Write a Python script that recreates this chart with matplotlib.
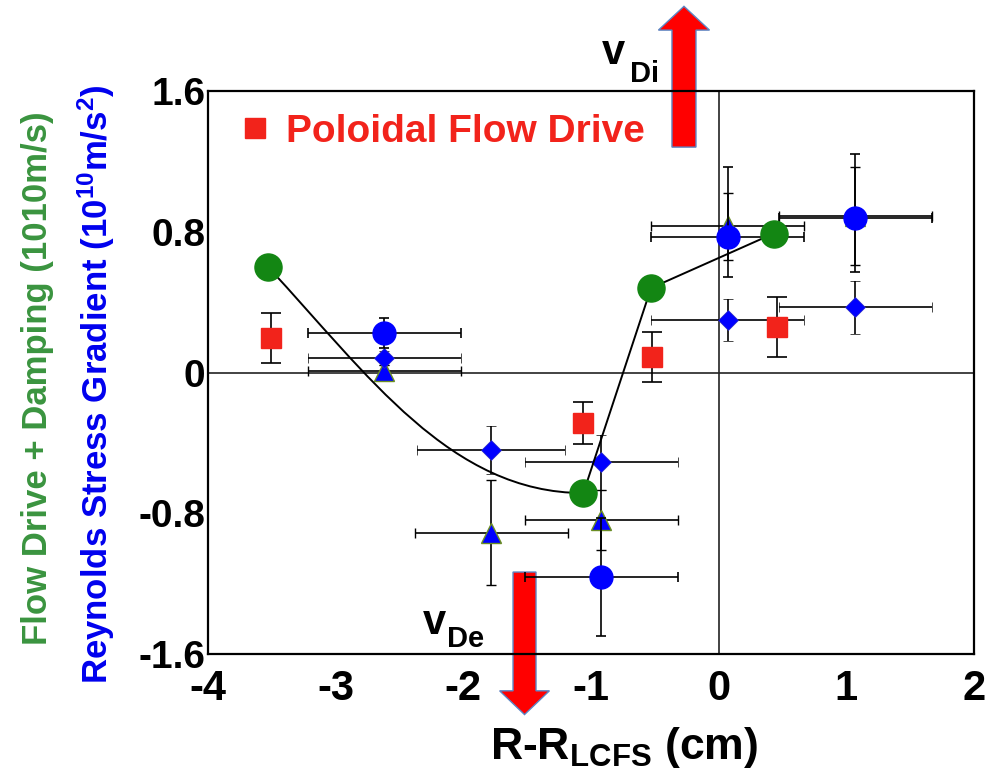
import numpy as np
import matplotlib
matplotlib.use("Agg")
import matplotlib.pyplot as plt
from matplotlib.path import Path
from matplotlib.patches import PathPatch, FancyArrow
from matplotlib.lines import Line2D

# datos
green_x = [-3.53, -1.06, -0.53, 0.43]
green_y = [0.60, -0.685, 0.48, 0.79]

red_x = [-3.51, -1.06, -0.52, 0.46]
red_y = [0.196, -0.287, 0.088, 0.26]
red_yerr = [0.14, 0.12, 0.14, 0.17]

circ_x = [-2.62, -0.92, 0.07, 1.07]
circ_y = [0.225, -1.16, 0.77, 0.88]
circ_yerr_lo = [0.085, 0.335, 0.23, 0.31]
circ_yerr_hi = [0.085, 0.335, 0.40, 0.36]
circ_xerr = [0.6, 0.6, 0.6, 0.6]

diam_x = [-2.62, -1.78, -0.92, 0.07, 1.07]
diam_y = [0.083, -0.44, -0.51, 0.30, 0.37]
diam_yerr = [0.04, 0.135, 0.155, 0.12, 0.15]
diam_xerr = [0.6, 0.58, 0.6, 0.6, 0.6]

tri_x = [-2.62, -1.78, -0.92, 0.07, 1.07]
tri_y = [0.01, -0.91, -0.84, 0.83, 0.89]
tri_yerr = [0.03, 0.30, 0.17, 0.19, 0.28]
tri_xerr = [0.6, 0.6, 0.6, 0.6, 0.6]

x_ticks = [-4, -3, -2, -1, 0, 1, 2]
y_ticks = [-1.6, -0.8, 0, 0.8, 1.6]
y_ticklabels = ['-1.6', '-0.8', '0', '0.8', '1.6']

RED = '#F2231B'
BLUE = '#0000FF'
GREEN = '#138613'

plt.rcParams['font.family'] = ['Liberation Sans', 'DejaVu Sans']
plt.rcParams['mathtext.fontset'] = 'custom'
plt.rcParams['mathtext.rm'] = 'Liberation Sans:bold'
plt.rcParams['mathtext.it'] = 'Liberation Sans:bold'
plt.rcParams['mathtext.bf'] = 'Liberation Sans:bold'

fig = plt.figure(figsize=(9.94, 7.73), dpi=100)
ax = fig.add_axes([0.2093, 0.1539, 0.7706, 0.7284])
ax.set_xlim(-4, 2)
ax.set_ylim(-1.6, 1.6)

for s in ax.spines.values():
    s.set_linewidth(1.6)
ax.axhline(0, color='#222222', lw=1.2, zorder=1)
ax.axvline(0, color='#222222', lw=1.2, zorder=1)

ax.set_xticks(x_ticks)
ax.set_xticklabels([str(t) for t in x_ticks])
ax.set_yticks(y_ticks)
ax.set_yticklabels(y_ticklabels)
ax.tick_params(axis='x', length=0, pad=11, labelsize=30)
ax.tick_params(axis='y', length=0, pad=2, labelsize=28)
for lab in ax.get_xticklabels() + ax.get_yticklabels():
    lab.set_fontweight('bold')

ekw = dict(ecolor='black', elinewidth=1.2, capthick=1.2, ls='none')

# triangulos, rombos y circulos azules (gradiente de Reynolds)
ax.errorbar(tri_x, tri_y, xerr=tri_xerr, yerr=tri_yerr, fmt='^', ms=14,
            mfc=BLUE, mec='#6B8E23', mew=1, capsize=3.5, zorder=3, **ekw)
ax.errorbar(diam_x, diam_y, xerr=diam_xerr, yerr=diam_yerr, fmt='D', ms=10.5,
            mfc=BLUE, mec='#3030C0', mew=0.5, capsize=3.5, zorder=4, **ekw)
ax.errorbar(circ_x, circ_y, xerr=circ_xerr, yerr=[circ_yerr_lo, circ_yerr_hi],
            fmt='o', ms=16.5, mfc=BLUE, mec=BLUE, capsize=3.5, zorder=5, **ekw)

# cuadrados rojos
ax.errorbar(red_x, red_y, yerr=red_yerr, fmt='s', ms=14.5, mfc=RED, mec=RED,
            capsize=7, zorder=5, **ekw)

# linea verde: primer tramo suavizado, el resto recto
h1 = (0.78, -0.61)
h2 = (-1.04, 0.0)
verts = [(green_x[0], green_y[0]),
         (green_x[0] + h1[0], green_y[0] + h1[1]),
         (green_x[1] + h2[0], green_y[1] + h2[1]),
         (green_x[1], green_y[1])]
verts += list(zip(green_x[2:], green_y[2:]))
codes = [Path.MOVETO, Path.CURVE4, Path.CURVE4, Path.CURVE4] + [Path.LINETO] * (len(green_x) - 2)
ax.add_patch(PathPatch(Path(verts, codes), fc='none', ec='black', lw=1.4, zorder=6))
ax.plot(green_x, green_y, 'o', ms=19.5, color=GREEN, zorder=7)

# flechas de deriva
ax.add_patch(FancyArrow(-0.272, 1.281, 0, 0.80, width=0.188, head_width=0.40,
                        head_length=0.135, length_includes_head=True,
                        fc='#FF0000', ec='#5B86C5', lw=1, clip_on=False, zorder=2))
ax.add_patch(FancyArrow(-1.521, -1.134, 0, -0.81, width=0.18, head_width=0.39,
                        head_length=0.135, length_includes_head=True,
                        fc='#FF0000', ec='#5B86C5', lw=1, clip_on=False, zorder=2))

W, H = 994.0, 773.0
fig.text(602 / W, 1 - 64 / H, 'v', fontsize=30, fontweight='bold', ha='left', va='baseline')
fig.text(630 / W, 1 - 82 / H, 'Di', fontsize=21, fontweight='bold', ha='left', va='baseline')
fig.text(423 / W, 1 - 634 / H, 'v', fontsize=30, fontweight='bold', ha='left', va='baseline')
fig.text(447 / W, 1 - 647 / H, 'De', fontsize=21, fontweight='bold', ha='left', va='baseline')

# leyenda
hnd = Line2D([], [], marker='s', ls='none', color=RED, ms=14.5)
leg = ax.legend([hnd], ['Poloidal Flow Drive'], loc='upper left',
                bbox_to_anchor=(0.036, 0.96), frameon=False, borderaxespad=0,
                borderpad=0, handlelength=1.0, handletextpad=0.3,
                prop={'weight': 'bold', 'size': 28})
for t in leg.get_texts():
    t.set_color(RED)

# etiquetas de los ejes
fig.text(38 / W, 1 - 378 / H, 'Flow Drive + Damping (1010m/s)', rotation=90,
         fontsize=25, fontweight='bold', color='#3A943F',
         ha='center', va='center')
fig.text(96 / W, 1 - 384 / H, 'Reynolds Stress Gradient (10$^{10}$m/s$^{2}$)',
         rotation=90, fontsize=25, fontweight='bold', color='#0000EE',
         ha='center', va='center')
fig.text(624 / W, 1 - 759 / H, 'R-R$_{LCFS}$ (cm)', fontsize=32, fontweight='bold',
         ha='center', va='baseline')

fig.savefig('out.png', dpi=100)
